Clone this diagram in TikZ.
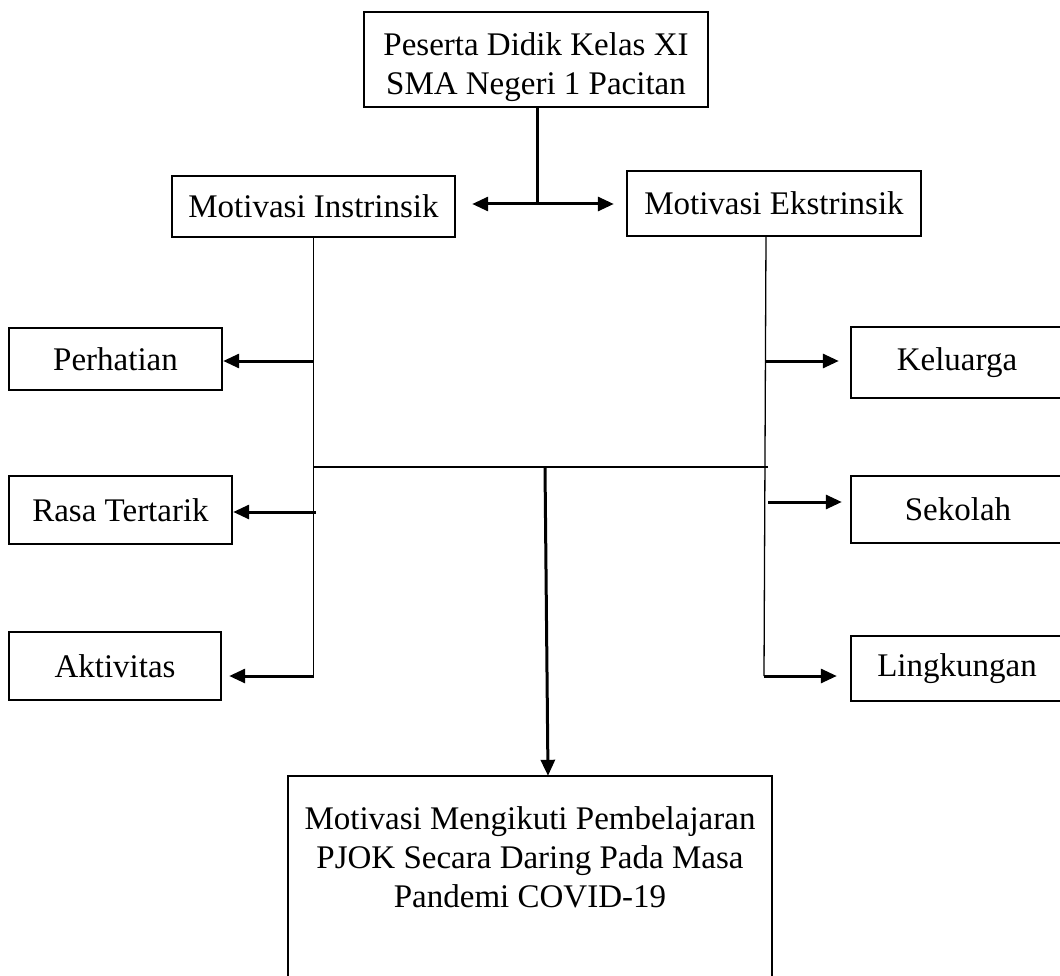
\documentclass[tikz,border=0pt]{standalone}
\usepackage{fontspec}
\setmainfont{Liberation Serif}
\usetikzlibrary{arrows.meta}
\begin{document}
\begin{tikzpicture}[x=1pt,y=-1pt,
  box/.style={draw, line width=2.4pt, inner sep=0pt, align=center, font=\fontsize{33}{39}\selectfont},
  boxtext/.style={inner sep=0pt, align=center, font=\fontsize{33}{39}\selectfont},
  boxline/.style={line width=2.4pt},
  thinline/.style={line width=1.3pt},
  thickline/.style={line width=3pt},
  arr/.style={line width=3pt, -{Triangle[length=16pt,width=14pt]}},
]
\clip (0,0) rectangle (1060,976);
\useasboundingbox (0,0) rectangle (1060,976);

% boxes
\node[box, minimum width=344pt, minimum height=95pt] (top) at (536,59.5) {\rule{0pt}{38pt}Peserta Didik Kelas XI\\SMA Negeri 1 Pacitan};
\node[box, minimum width=283pt, minimum height=61pt] (mi) at (313.5,206.5) {Motivasi Instrinsik};
\node[box, minimum width=294pt, minimum height=65pt] (me) at (774,203.5) {Motivasi Ekstrinsik};

\node[box, minimum width=213pt, minimum height=62pt] (per) at (115.5,359) {Perhatian};
\node[box, minimum width=223pt, minimum height=68pt] (rasa) at (120.5,510) {Rasa Tertarik};
\node[box, minimum width=212pt, minimum height=68pt] (akt) at (115,666) {Aktivitas};

\node[box, minimum width=240pt, minimum height=71pt] (kel) at (971,362.5) {Keluarga\hspace{28pt}};
\node[box, minimum width=240pt, minimum height=67pt] (sek) at (971,509.5) {Sekolah\hspace{26pt}};
\node[box, minimum width=240pt, minimum height=65pt] (lin) at (971,668.5) {Lingkungan\hspace{28pt}};

\node[boxtext, minimum width=484pt, minimum height=162pt] (bot) at (530,857) {Motivasi Mengikuti Pembelajaran\\PJOK Secara Daring Pada Masa\\Pandemi COVID-19};
\draw[boxline] (bot.north west) rectangle ([yshift=-80pt]bot.south east);

% top junction
\coordinate (j) at (537,204);
\draw[thickline] (top.south -| j) -- (j);
\draw[arr, shorten >=16pt] (j) -- (j -| mi.east);
\draw[arr, shorten >=12pt] (j) -- (j -| me.west);

% left branch
\coordinate (l1) at (313.5,361);
\coordinate (l2) at (316,512);
\coordinate (l3) at (313.5,676);
\draw[thinline] (mi.south) -- (l3);
\draw[arr] (l1) -- (l1 -| per.east);
\draw[arr] (l2) -- (l2 -| rasa.east);
\draw[arr, shorten >=7pt] (l3) -- (l3 -| akt.east);

% right branch
\coordinate (r0) at (766,236);
\coordinate (r1) at (765,361);
\coordinate (r2) at (768,502);
\coordinate (r3) at (764,676);
\draw[thinline] (r0) -- (r3);
\draw[arr, shorten >=11pt] (r1) -- (r1 -| kel.west);
\draw[arr, shorten >=8pt] (r2) -- (r2 -| sek.west);
\draw[arr, shorten >=13pt] (r3) -- (r3 -| lin.west);

% middle join
\coordinate (m) at (545,467);
\draw[thinline] (313.5,467) -- (768,467);
\draw[arr] (m) -- ([xshift=18pt]bot.north);
\end{tikzpicture}
\end{document}
